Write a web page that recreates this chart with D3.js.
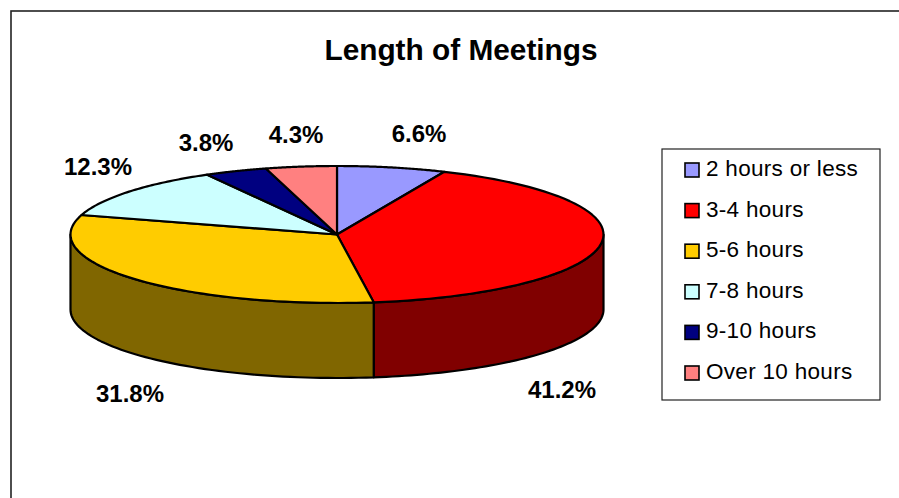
<!DOCTYPE html>
<html><head><meta charset="utf-8">
<style>html,body{margin:0;padding:0;background:#fff}svg{display:block}text{font-family:"Liberation Sans",Arial,sans-serif;fill:#000}</style>
<script src="https://cdnjs.cloudflare.com/ajax/libs/d3/7.8.5/d3.min.js"></script>
</head><body><svg id="c" width="899" height="498"></svg>
<script>
const categories = ["2 hours or less","3-4 hours","5-6 hours","7-8 hours","9-10 hours","Over 10 hours"];
const values = [6.6,41.2,31.8,12.3,3.8,4.3];
const topColors = ["#9999FF","#FF0000","#FFCC00","#CCFFFF","#000080","#FF8080"];
const sideColors = ["#4C4C80","#800000","#806600","#668080","#000040","#804040"];
const labelPositions = [[419,134],[562,390],[130,394],[98,167],[206,143],[296,135]];

const svg = d3.select("#c");
svg.append("rect").attr("x",11).attr("y",11).attr("width",900).attr("height",500)
  .attr("fill","#fff").attr("stroke","#222").attr("stroke-width",1.6);

svg.append("text").attr("x",461).attr("y",60).attr("text-anchor","middle")
  .attr("font-size",29.8).attr("font-weight","bold").text("Length of Meetings");

const cx=337, cy=234.5, rx=266.5, ry=68.5, depth=75;
const X=a=>cx+rx*Math.sin(a), Y=a=>cy-ry*Math.cos(a);
const arcs=d3.pie().sort(null).value(d=>d)(values);
const samples=(a,b)=>d3.range(0,61).map(i=>a+(b-a)*i/60);
const line=d3.line();

// side walls
const F0=Math.PI/2,F1=3*Math.PI/2;
arcs.forEach((d,i)=>{
  const a=Math.max(d.startAngle,F0), b=Math.min(d.endAngle,F1);
  if(b<=a) return;
  const s=samples(a,b);
  const pts=s.map(t=>[X(t),Y(t)]).concat(s.slice().reverse().map(t=>[X(t),Y(t)+depth]));
  svg.append("path").attr("d",line(pts)+"Z").attr("fill",sideColors[i])
    .attr("stroke","#000").attr("stroke-width",2.2).attr("stroke-linejoin","round");
});
// top slices
arcs.forEach((d,i)=>{
  const pts=[[cx,cy]].concat(samples(d.startAngle,d.endAngle).map(t=>[X(t),Y(t)]));
  svg.append("path").attr("d",line(pts)+"Z").attr("fill",topColors[i])
    .attr("stroke","#000").attr("stroke-width",2.2).attr("stroke-linejoin","round");
});
// data labels
values.forEach((v,i)=>{
  svg.append("text").attr("x",labelPositions[i][0]).attr("y",labelPositions[i][1]+8)
    .attr("text-anchor","middle").attr("font-size",24).attr("font-weight","bold").text(v.toFixed(1)+"%");
});
// legend
const lg=svg.append("g");
lg.append("rect").attr("x",662).attr("y",149).attr("width",218).attr("height",251)
  .attr("fill","#fff").attr("stroke","#222").attr("stroke-width",1.2);
const rowY=d3.scalePoint().domain(categories).range([169,372]);
categories.forEach((c,i)=>{
  const y=rowY(c);
  lg.append("rect").attr("x",685).attr("y",y-6).attr("width",14).attr("height",14)
    .attr("fill",topColors[i]).attr("stroke","#000").attr("stroke-width",1.6);
  lg.append("text").attr("x",706).attr("y",y+7).attr("font-size",22.5).attr("letter-spacing",0.3).text(c);
});
</script></body></html>
